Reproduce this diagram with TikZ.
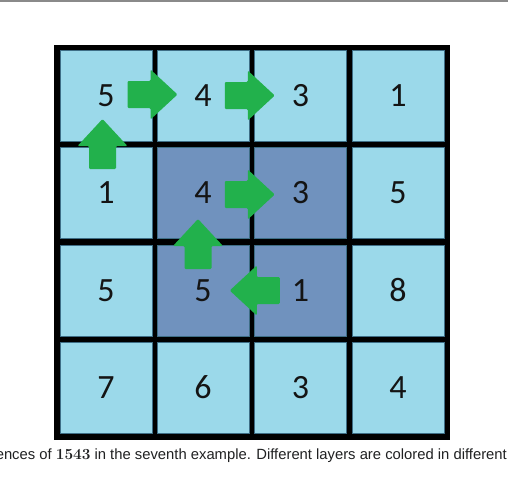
\documentclass[tikz,border=0pt]{standalone}
\usepackage{fontspec}
\usetikzlibrary{calc}
\newfontfamily\digfont{Carlito}
\newfontfamily\capfont{Liberation Sans}
\definecolor{cellLight}{HTML}{9BD9EA}
\definecolor{cellDark}{HTML}{7092BE}
\definecolor{cellEdge}{HTML}{3E6E86}
\definecolor{arrowGreen}{HTML}{22B14C}
\definecolor{capText}{HTML}{202122}
\definecolor{ruleGray}{HTML}{8A8A8A}
\tikzset{
  cellbox/.style={rectangle, minimum width=92pt, minimum height=91pt, inner sep=0pt,
    fill=cellLight, draw=cellEdge, line width=0.7pt,
    font=\digfont\fontsize{34}{40}\selectfont, text=black!92},
  darkcell/.style={cellbox, fill=cellDark},
  pics/barrow/.style={code={
    \fill[arrowGreen, rounded corners=1.2pt] (-25,-13.5) -- (-2,-13.5) -- (-2,-25) -- (25,0) -- (-2,25) -- (-2,13.5) -- (-25,13.5) -- cycle;}}
}
\begin{document}
\begin{tikzpicture}[x=1pt,y=-1pt]
\useasboundingbox (0,0) rectangle (508,482);
\clip (0,0) rectangle (508,482);
\fill[white] (0,0) rectangle (508,482);
\fill[ruleGray] (0,0) rectangle (508,1.5);
\fill[black] (54,45) rectangle (450,440);
% row 0
\node[cellbox] (c00) at (106,95.5) {5};
\node[cellbox] (c01) at (203,95.5) {4};
\node[cellbox] (c02) at (300.5,95.5) {3};
\node[cellbox] (c03) at (398,95.5) {1};
% row 1
\node[cellbox] (c10) at (106,192.5) {1};
\node[darkcell] (c11) at (203,192.5) {4};
\node[darkcell] (c12) at (300.5,192.5) {3};
\node[cellbox] (c13) at (398,192.5) {5};
% row 2
\node[cellbox] (c20) at (106,290.5) {5};
\node[darkcell] (c21) at (203,290.5) {5};
\node[darkcell] (c22) at (300.5,290.5) {1};
\node[cellbox] (c23) at (398,290.5) {8};
% row 3
\node[cellbox] (c30) at (106,387.5) {7};
\node[cellbox] (c31) at (203,387.5) {6};
\node[cellbox] (c32) at (300.5,387.5) {3};
\node[cellbox] (c33) at (398,387.5) {4};
% arrows
\pic[rotate=90] at ($(c10)!0.5!(c00)+(-3.5,0)$) {barrow};
\pic at ($(c00)!0.5!(c01)+(-2,-1)$) {barrow};
\pic at ($(c01)!0.5!(c02)+(-2,0)$) {barrow};
\pic at ($(c11)!0.5!(c12)+(-2,2)$) {barrow};
\pic[rotate=90] at ($(c21)!0.5!(c11)+(-5,2.5)$) {barrow};
\pic[rotate=180] at ($(c22)!0.5!(c21)+(3,0)$) {barrow};
% caption
\node[anchor=base east, inner sep=0pt, text=capText, font=\capfont\fontsize{14.8}{18}\selectfont] (cap) at (507,459)
  {ences of {\rmfamily\bfseries\fontsize{15.4}{18}\selectfont 1543} in the seventh example. Different layers are colored in different};
\end{tikzpicture}
\end{document}
